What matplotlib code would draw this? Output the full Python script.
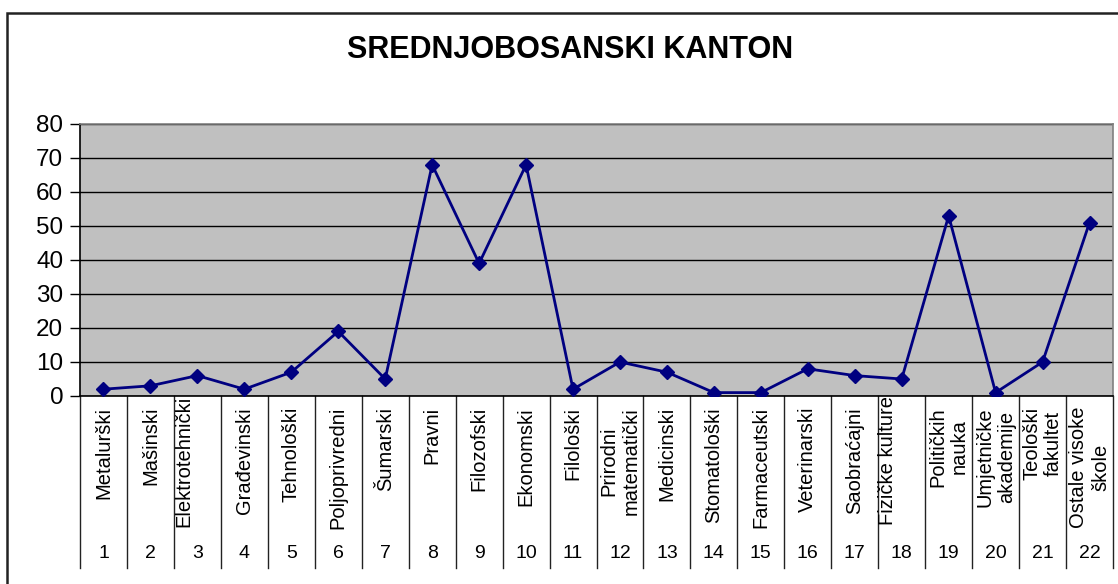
import matplotlib.pyplot as plt
import matplotlib.transforms as mtransforms
from matplotlib.patches import Rectangle

# ============================================================
# Podaci
# ============================================================
fakulteti = [
    'Metalurški', 'Mašinski', 'Elektrotehnički', 'Građevinski', 'Tehnološki',
    'Poljoprivredni', 'Šumarski', 'Pravni', 'Filozofski', 'Ekonomski',
    'Filološki', 'Prirodni\nmatematički', 'Medicinski', 'Stomatološki',
    'Farmaceutski', 'Veterinarski', 'Saobraćajni', 'Fizičke kulture',
    'Političkih\nnauka', 'Umjetničke\nakademije', 'Teološki\nfakultet',
    'Ostale visoke\nškole',
]
redni_broj = [str(i) for i in range(1, 23)]
vrijednosti = [2, 3, 6, 2, 7, 19, 5, 68, 39, 68, 2, 10, 7, 1, 1, 8, 6, 5, 53, 1, 10, 51]
y_ticks = [0, 10, 20, 30, 40, 50, 60, 70, 80]

plt.rcParams['font.family'] = ['Liberation Sans', 'DejaVu Sans']

W, H = 1118, 584
fig = plt.figure(figsize=(W / 100, H / 100), dpi=100)

# okvir grafikona (lijevo i gore vidljivo)
fig.patches.append(Rectangle((7 / W, -0.1), 1.2, 1 - 13 / H + 0.1,
                             transform=fig.transFigure, fill=False,
                             edgecolor='#222222', linewidth=1.8))

ax = fig.add_axes([80 / W, 188 / H, (1113 - 80) / W, 272 / H])
ax.set_facecolor('#C0C0C0')

x = list(range(1, len(vrijednosti) + 1))
ax.plot(x, vrijednosti, color='#000080', linewidth=2, marker='D',
        markersize=7.5, markerfacecolor='#000080', markeredgecolor='#000080',
        zorder=3)

ax.set_xlim(0.5, len(vrijednosti) + 0.5)
ax.set_ylim(0, 80)
ax.set_yticks(y_ticks)
ax.set_yticklabels([str(v) for v in y_ticks], fontsize=17.5)
ax.tick_params(axis='y', length=7, width=1, direction='out', pad=5)
ax.set_xticks([])
ax.yaxis.grid(True, color='black', linewidth=1)
ax.set_axisbelow(True)

ax.spines['left'].set_color('black')
ax.spines['bottom'].set_color('black')
ax.spines['top'].set_color('#808080')
ax.spines['right'].set_color('#808080')
for s in ax.spines.values():
    s.set_linewidth(1.2)

# tabela kategorija ispod osi
trans = mtransforms.blended_transform_factory(ax.transData, ax.transAxes)
table_bottom = (396 - 568) / 272
for b in [i + 0.5 for i in range(len(vrijednosti) + 1)]:
    ax.plot([b, b], [0, table_bottom], color='#222222', linewidth=1,
            transform=trans, clip_on=False)

fig.canvas.draw()
renderer = fig.canvas.get_renderer()
max_len = 125  # px, duži tekst ide od lijeve ivice kolone
for xi, naziv, broj in zip(x, fakulteti, redni_broj):
    t = ax.text(xi, -0.04, naziv, transform=trans, rotation=90,
                ha='center', va='top', multialignment='center', fontsize=14.5)
    bb = t.get_window_extent(renderer)
    if bb.height > max_len:
        t.set_position((xi - 0.5, 0.0))
        t.set_ha('left')
    ax.text(xi, (396 - 553) / 272, broj, transform=trans,
            ha='center', va='center', fontsize=14)

fig.text(570 / W, 1 - 50 / H, 'SREDNJOBOSANSKI KANTON', ha='center',
         va='center', fontsize=22, fontweight='bold')

fig.savefig('out.png', dpi=100)
